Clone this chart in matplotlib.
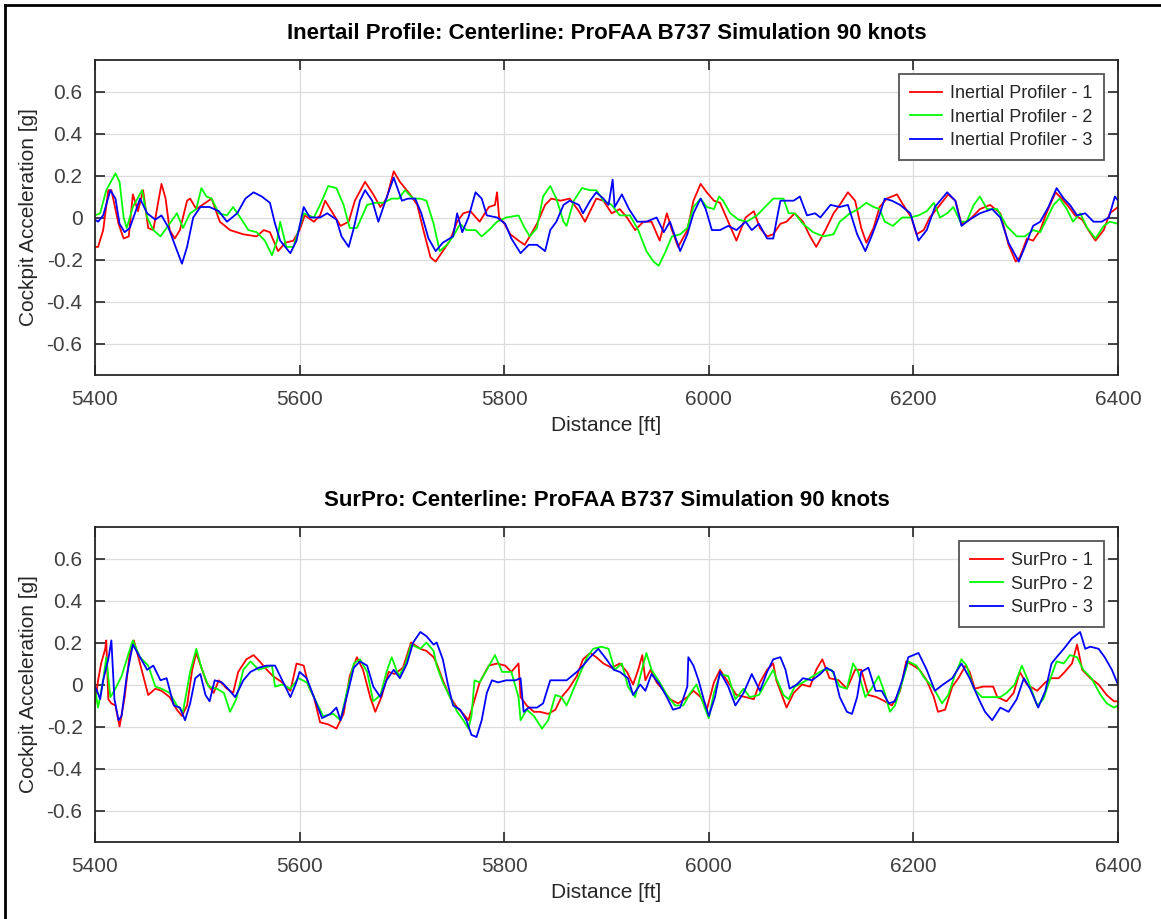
import matplotlib
matplotlib.use("Agg")
import matplotlib.pyplot as plt
from matplotlib.lines import Line2D

# distance [ft], cockpit acceleration [g]
ip1 = [(5400, -0.14), (5403, -0.14), (5408, -0.06), (5413, 0.13), (5416, 0.13), (5423, -0.03),
       (5428, -0.10), (5433, -0.09), (5437, 0.11), (5442, 0.03), (5447, 0.13), (5452, -0.05),
       (5457, -0.06), (5462, 0.08), (5465, 0.16), (5469, 0.09), (5473, -0.06), (5478, -0.10),
       (5483, -0.06), (5490, 0.08), (5493, 0.09), (5499, 0.04), (5508, 0.07), (5514, 0.09),
       (5522, -0.02), (5532, -0.06), (5545, -0.08), (5558, -0.09), (5565, -0.06), (5571, -0.07),
       (5579, -0.16), (5586, -0.12), (5594, -0.11), (5600, -0.06), (5605, 0.01), (5614, -0.02),
       (5620, 0.01), (5625, 0.08), (5630, 0.04), (5640, -0.04), (5648, -0.02), (5654, 0.08),
       (5664, 0.17), (5672, 0.11), (5679, 0.05), (5685, 0.09), (5692, 0.22), (5698, 0.17),
       (5708, 0.11), (5715, 0.06), (5721, -0.06), (5728, -0.19), (5733, -0.21), (5740, -0.16),
       (5747, -0.11), (5754, -0.02), (5760, 0.02), (5767, 0.03), (5776, -0.02), (5785, 0.05),
       (5791, 0.06), (5793, 0.12), (5795, 0.0), (5799, -0.02), (5806, -0.08), (5814, -0.11),
       (5820, -0.13), (5825, -0.09), (5832, -0.03), (5840, 0.06), (5846, 0.09), (5855, 0.08),
       (5864, 0.09), (5873, 0.03), (5879, -0.02), (5884, 0.03), (5890, 0.09), (5897, 0.08),
       (5905, 0.02), (5913, 0.04), (5920, 0.0), (5928, -0.06), (5936, -0.02), (5944, -0.02),
       (5952, -0.11), (5959, 0.02), (5964, -0.06), (5970, -0.14), (5979, -0.06), (5985, 0.08),
       (5992, 0.16), (5998, 0.12), (6005, 0.08), (6011, 0.07), (6019, -0.02), (6027, -0.11),
       (6036, 0.0), (6044, 0.03), (6050, -0.05), (6057, -0.09), (6063, -0.08), (6070, -0.03),
       (6076, -0.02), (6084, 0.02), (6092, -0.02), (6099, -0.09), (6105, -0.14), (6114, -0.06),
       (6122, 0.02), (6128, 0.06), (6136, 0.12), (6143, 0.08), (6149, -0.05), (6154, -0.12),
       (6161, -0.05), (6167, 0.05), (6174, 0.09), (6184, 0.11), (6190, 0.06), (6198, 0.0),
       (6203, -0.08), (6210, -0.06), (6216, 0.0), (6226, 0.06), (6234, 0.11), (6241, 0.08),
       (6247, -0.03), (6255, -0.01), (6265, 0.04), (6275, 0.06), (6285, 0.02), (6293, -0.13),
       (6300, -0.21), (6304, -0.19), (6311, -0.10), (6317, -0.11), (6324, -0.06), (6330, 0.02),
       (6339, 0.12), (6345, 0.09), (6352, 0.05), (6358, 0.01), (6365, -0.01), (6371, -0.06),
       (6378, -0.11), (6386, -0.06), (6392, 0.02), (6400, 0.05)]

ip2 = [(5400, 0.01), (5405, 0.02), (5411, 0.13), (5420, 0.21), (5424, 0.17), (5428, 0.0),
       (5431, -0.05), (5437, 0.05), (5446, 0.13), (5451, 0.0), (5457, -0.06), (5464, -0.09),
       (5470, -0.05), (5480, 0.02), (5486, -0.05), (5493, 0.02), (5499, 0.04), (5504, 0.14),
       (5509, 0.10), (5514, 0.09), (5521, 0.02), (5529, 0.01), (5535, 0.05), (5542, 0.0),
       (5550, -0.06), (5558, -0.07), (5566, -0.11), (5573, -0.18), (5578, -0.11), (5581, -0.02),
       (5587, -0.14), (5594, -0.14), (5604, 0.02), (5614, 0.0), (5620, 0.06), (5628, 0.15),
       (5636, 0.14), (5643, 0.06), (5649, -0.05), (5656, -0.05), (5666, 0.06), (5674, 0.07),
       (5682, 0.07), (5690, 0.09), (5697, 0.09), (5703, 0.13), (5711, 0.09), (5718, 0.09),
       (5724, 0.08), (5731, -0.03), (5737, -0.16), (5744, -0.13), (5750, -0.09), (5757, -0.03),
       (5763, -0.06), (5772, -0.06), (5778, -0.09), (5785, -0.06), (5793, -0.02), (5802, 0.0),
       (5814, 0.01), (5820, -0.05), (5825, -0.09), (5832, -0.05), (5838, 0.10), (5845, 0.15),
       (5851, 0.09), (5858, -0.02), (5861, -0.04), (5868, 0.08), (5876, 0.14), (5884, 0.13),
       (5890, 0.13), (5897, 0.08), (5905, 0.06), (5913, 0.01), (5923, 0.01), (5931, -0.06),
       (5939, -0.16), (5946, -0.21), (5951, -0.23), (5957, -0.17), (5964, -0.09), (5972, -0.08),
       (5979, -0.05), (5985, 0.05), (5992, 0.09), (5998, 0.05), (6005, 0.04), (6010, 0.10),
       (6014, 0.08), (6021, 0.02), (6029, -0.01), (6037, -0.02), (6047, 0.01), (6057, 0.06),
       (6063, 0.09), (6073, 0.09), (6078, 0.02), (6084, 0.02), (6092, -0.03), (6102, -0.07),
       (6112, -0.09), (6122, -0.08), (6128, -0.02), (6138, 0.02), (6146, 0.04), (6154, 0.07),
       (6161, 0.05), (6167, 0.04), (6172, -0.02), (6180, -0.04), (6189, 0.0), (6197, 0.0),
       (6205, 0.01), (6213, 0.03), (6220, 0.07), (6226, 0.0), (6233, 0.02), (6239, 0.05),
       (6246, -0.02), (6252, -0.02), (6259, 0.06), (6265, 0.10), (6272, 0.04), (6282, 0.04),
       (6291, -0.04), (6301, -0.09), (6309, -0.09), (6317, -0.06), (6324, -0.07), (6330, -0.01),
       (6337, 0.06), (6343, 0.09), (6350, 0.04), (6356, -0.02), (6363, 0.02), (6370, -0.05),
       (6378, -0.10), (6386, -0.04), (6392, -0.02), (6400, -0.03)]

ip3 = [(5400, -0.01), (5403, -0.02), (5408, 0.01), (5415, 0.13), (5420, 0.09), (5424, -0.03),
       (5429, -0.07), (5434, -0.05), (5444, 0.09), (5451, 0.02), (5459, -0.01), (5465, 0.01),
       (5472, -0.05), (5478, -0.13), (5485, -0.22), (5490, -0.14), (5496, 0.0), (5503, 0.05),
       (5512, 0.05), (5521, 0.03), (5529, -0.02), (5539, 0.02), (5547, 0.09), (5555, 0.12),
       (5563, 0.10), (5571, 0.07), (5576, -0.03), (5581, -0.11), (5591, -0.17), (5597, -0.11),
       (5604, 0.05), (5610, 0.0), (5620, 0.0), (5627, 0.02), (5636, -0.01), (5641, -0.09),
       (5648, -0.14), (5653, -0.05), (5659, 0.08), (5664, 0.13), (5671, 0.08), (5677, -0.02),
       (5684, 0.08), (5692, 0.19), (5700, 0.08), (5706, 0.09), (5713, 0.09), (5719, 0.02),
       (5726, -0.10), (5733, -0.16), (5740, -0.12), (5750, -0.09), (5754, 0.02), (5759, -0.07),
       (5765, 0.0), (5772, 0.12), (5778, 0.09), (5783, 0.01), (5793, 0.0), (5801, -0.03),
       (5807, -0.10), (5816, -0.17), (5824, -0.13), (5832, -0.13), (5840, -0.16), (5845, -0.06),
       (5851, -0.02), (5858, 0.06), (5864, 0.08), (5873, 0.06), (5877, 0.02), (5884, 0.08),
       (5890, 0.12), (5897, 0.09), (5902, 0.06), (5906, 0.18), (5908, 0.05), (5915, 0.11),
       (5922, 0.04), (5930, -0.02), (5939, -0.02), (5949, 0.0), (5956, -0.07), (5962, -0.02),
       (5972, -0.16), (5979, -0.08), (5985, 0.02), (5992, 0.09), (5997, 0.04), (6003, -0.06),
       (6011, -0.06), (6019, -0.04), (6027, -0.06), (6036, -0.02), (6042, -0.06), (6049, -0.03),
       (6057, -0.10), (6063, -0.10), (6066, -0.02), (6070, 0.08), (6076, 0.08), (6083, 0.08),
       (6089, 0.10), (6096, 0.01), (6104, 0.02), (6109, 0.0), (6119, 0.06), (6128, 0.05),
       (6136, 0.06), (6145, -0.08), (6153, -0.16), (6159, -0.09), (6166, 0.0), (6172, 0.09),
       (6179, 0.08), (6187, 0.06), (6197, 0.02), (6205, -0.11), (6213, -0.06), (6221, 0.05),
       (6233, 0.12), (6241, 0.08), (6247, -0.04), (6255, -0.01), (6265, 0.02), (6277, 0.04),
       (6285, 0.0), (6293, -0.12), (6303, -0.21), (6309, -0.14), (6317, -0.04), (6324, -0.02),
       (6332, 0.05), (6340, 0.14), (6347, 0.09), (6353, 0.06), (6360, 0.01), (6368, 0.02),
       (6376, -0.02), (6384, -0.02), (6391, 0.0), (6397, 0.10), (6400, 0.08)]

sp1 = [(5400, -0.09), (5403, 0.02), (5406, 0.10), (5410, 0.17), (5411, 0.21), (5413, -0.07),
       (5416, -0.09), (5420, -0.10), (5424, -0.20), (5429, -0.06), (5434, 0.15), (5438, 0.21),
       (5444, 0.10), (5452, -0.05), (5459, -0.02), (5465, -0.03), (5473, -0.06), (5480, -0.12),
       (5485, -0.15), (5490, -0.10), (5495, 0.07), (5499, 0.15), (5504, 0.08), (5509, 0.01),
       (5516, -0.04), (5521, 0.02), (5529, -0.02), (5535, -0.04), (5540, 0.06), (5548, 0.12),
       (5555, 0.14), (5561, 0.11), (5568, 0.07), (5574, 0.04), (5583, 0.01), (5591, -0.03),
       (5597, 0.10), (5604, 0.09), (5609, -0.01), (5614, -0.06), (5620, -0.18), (5628, -0.19),
       (5636, -0.21), (5643, -0.14), (5649, 0.04), (5656, 0.13), (5662, 0.07), (5669, -0.06),
       (5674, -0.13), (5680, -0.06), (5687, 0.06), (5693, 0.05), (5701, 0.08), (5709, 0.20),
       (5718, 0.17), (5724, 0.16), (5731, 0.13), (5734, 0.10), (5740, 0.02), (5747, -0.06),
       (5754, -0.11), (5760, -0.14), (5765, -0.17), (5770, -0.09), (5776, 0.01), (5785, 0.09),
       (5793, 0.10), (5801, 0.09), (5807, 0.06), (5814, 0.10), (5816, -0.06), (5822, -0.10),
       (5829, -0.13), (5835, -0.13), (5843, -0.14), (5850, -0.12), (5856, -0.06), (5863, -0.02),
       (5871, 0.04), (5877, 0.12), (5884, 0.15), (5890, 0.13), (5897, 0.10), (5905, 0.08),
       (5913, 0.10), (5920, 0.06), (5926, 0.0), (5931, 0.07), (5935, 0.14), (5938, 0.02),
       (5943, 0.07), (5949, 0.01), (5956, -0.03), (5962, -0.07), (5970, -0.09), (5979, -0.06),
       (5985, -0.03), (5992, -0.06), (5998, -0.12), (6005, 0.01), (6011, 0.07), (6019, 0.01),
       (6027, -0.05), (6036, -0.06), (6044, -0.07), (6050, 0.01), (6057, 0.07), (6063, 0.10),
       (6066, 0.02), (6073, -0.07), (6076, -0.11), (6083, -0.04), (6091, 0.0), (6099, -0.01),
       (6105, 0.07), (6111, 0.12), (6118, 0.03), (6127, 0.02), (6135, -0.02), (6143, 0.07),
       (6149, 0.07), (6156, -0.05), (6164, -0.06), (6172, -0.08), (6179, -0.10), (6187, -0.03),
       (6193, 0.11), (6200, 0.09), (6206, 0.07), (6213, 0.02), (6220, -0.06), (6224, -0.13),
       (6231, -0.12), (6238, -0.01), (6244, 0.03), (6251, 0.09), (6255, 0.06), (6260, -0.02),
       (6268, -0.01), (6278, -0.01), (6282, -0.06), (6291, -0.08), (6298, -0.04), (6304, 0.06),
       (6311, 0.0), (6321, -0.03), (6329, 0.01), (6335, 0.03), (6342, 0.03), (6348, 0.06),
       (6355, 0.10), (6360, 0.19), (6365, 0.07), (6373, 0.03), (6381, 0.0), (6389, -0.05),
       (6396, -0.08), (6400, -0.08)]

sp2 = [(5400, -0.02), (5403, -0.11), (5408, 0.02), (5411, 0.13), (5415, -0.06), (5420, -0.02),
       (5426, 0.04), (5433, 0.15), (5437, 0.21), (5444, 0.13), (5452, 0.09), (5459, -0.01),
       (5465, -0.02), (5473, -0.04), (5480, -0.10), (5486, -0.13), (5493, 0.06), (5499, 0.17),
       (5504, 0.08), (5511, -0.01), (5519, -0.02), (5526, -0.04), (5532, -0.13), (5538, -0.07),
       (5545, 0.07), (5552, 0.11), (5560, 0.07), (5566, 0.08), (5573, 0.09), (5576, -0.01),
       (5583, 0.0), (5591, -0.02), (5599, 0.03), (5607, 0.01), (5614, -0.06), (5623, -0.15),
       (5633, -0.14), (5640, -0.17), (5646, -0.04), (5653, 0.10), (5659, 0.12), (5666, 0.06),
       (5672, -0.08), (5679, -0.05), (5685, 0.06), (5690, 0.13), (5697, 0.04), (5703, 0.09),
       (5709, 0.19), (5718, 0.17), (5724, 0.20), (5731, 0.16), (5734, 0.09), (5740, 0.01),
       (5747, -0.06), (5754, -0.13), (5760, -0.17), (5765, -0.21), (5768, -0.15), (5771, 0.02),
       (5776, 0.01), (5783, 0.07), (5791, 0.14), (5798, 0.06), (5807, 0.06), (5814, -0.06),
       (5816, -0.17), (5822, -0.12), (5829, -0.15), (5837, -0.21), (5843, -0.17), (5850, -0.05),
       (5856, -0.06), (5861, -0.10), (5868, -0.02), (5874, 0.05), (5881, 0.13), (5887, 0.17),
       (5895, 0.18), (5902, 0.17), (5908, 0.07), (5915, 0.10), (5921, -0.01), (5928, -0.06),
       (5933, 0.04), (5939, 0.15), (5944, 0.07), (5952, 0.01), (5959, -0.05), (5967, -0.10),
       (5975, -0.10), (5982, -0.04), (5988, 0.0), (5996, -0.11), (6000, -0.16), (6005, -0.04),
       (6011, 0.05), (6019, 0.04), (6026, -0.07), (6034, -0.02), (6040, -0.06), (6049, -0.05),
       (6057, 0.02), (6063, 0.07), (6066, 0.03), (6073, -0.05), (6078, -0.07), (6084, -0.01),
       (6092, 0.01), (6102, 0.04), (6112, 0.07), (6120, 0.07), (6128, -0.01), (6135, -0.02),
       (6141, 0.10), (6146, 0.06), (6153, -0.06), (6159, -0.02), (6166, 0.04), (6172, -0.04),
       (6177, -0.13), (6182, -0.10), (6189, 0.01), (6195, 0.11), (6203, 0.09), (6211, 0.03),
       (6220, -0.02), (6228, -0.09), (6234, -0.05), (6241, 0.05), (6247, 0.12), (6252, 0.09),
       (6259, -0.02), (6267, -0.06), (6275, -0.06), (6285, -0.06), (6291, -0.04), (6299, 0.0),
       (6306, 0.09), (6312, 0.02), (6321, -0.10), (6327, -0.07), (6334, 0.03), (6340, 0.11),
       (6347, 0.10), (6353, 0.14), (6360, 0.13), (6366, 0.07), (6374, 0.03), (6383, -0.05),
       (6389, -0.09), (6396, -0.11), (6400, -0.10)]

sp3 = [(5400, -0.01), (5402, -0.03), (5405, -0.07), (5408, 0.02), (5413, 0.12), (5416, 0.21),
       (5419, -0.07), (5423, -0.17), (5426, -0.15), (5431, 0.04), (5437, 0.19), (5444, 0.13),
       (5451, 0.07), (5457, 0.09), (5464, 0.02), (5470, 0.03), (5477, -0.10), (5483, -0.11),
       (5488, -0.17), (5493, -0.09), (5498, 0.03), (5503, 0.05), (5508, -0.05), (5512, -0.08),
       (5517, 0.02), (5524, 0.01), (5530, -0.02), (5537, -0.06), (5545, 0.02), (5552, 0.06),
       (5560, 0.08), (5568, 0.09), (5576, 0.09), (5583, 0.02), (5591, -0.06), (5596, 0.0),
       (5600, 0.06), (5607, 0.03), (5614, -0.06), (5622, -0.16), (5630, -0.14), (5636, -0.11),
       (5640, -0.17), (5646, -0.06), (5653, 0.08), (5659, 0.11), (5666, 0.09), (5672, -0.01),
       (5679, -0.06), (5685, 0.02), (5692, 0.07), (5698, 0.03), (5705, 0.10), (5711, 0.20),
       (5718, 0.25), (5724, 0.23), (5731, 0.19), (5734, 0.20), (5740, 0.12), (5745, 0.0),
       (5750, -0.10), (5757, -0.12), (5763, -0.17), (5768, -0.24), (5773, -0.25), (5778, -0.17),
       (5783, -0.04), (5788, 0.02), (5794, 0.01), (5802, 0.02), (5811, 0.02), (5816, 0.03),
       (5819, -0.13), (5824, -0.11), (5832, -0.11), (5838, -0.09), (5845, 0.02), (5853, 0.02),
       (5861, 0.02), (5871, 0.06), (5877, 0.09), (5884, 0.13), (5892, 0.17), (5900, 0.12),
       (5907, 0.07), (5913, 0.06), (5921, 0.03), (5926, -0.05), (5933, 0.0), (5938, -0.03),
       (5944, 0.05), (5952, 0.0), (5959, -0.06), (5965, -0.12), (5972, -0.11), (5979, -0.01),
       (5980, 0.13), (5985, 0.09), (5990, 0.02), (5995, -0.07), (6000, -0.15), (6006, -0.06),
       (6011, 0.06), (6019, -0.01), (6026, -0.10), (6034, -0.04), (6042, 0.05), (6050, -0.03),
       (6057, 0.06), (6063, 0.12), (6070, 0.13), (6075, 0.07), (6079, -0.02), (6086, 0.0),
       (6092, 0.03), (6101, 0.02), (6109, 0.05), (6115, 0.08), (6122, 0.06), (6128, -0.06),
       (6135, -0.13), (6140, -0.14), (6145, -0.06), (6149, 0.06), (6156, 0.08), (6163, -0.03),
       (6169, -0.03), (6176, -0.09), (6182, -0.08), (6189, 0.02), (6195, 0.13), (6205, 0.15),
       (6213, 0.07), (6221, -0.03), (6229, 0.0), (6238, 0.03), (6247, 0.10), (6255, 0.03),
       (6264, -0.07), (6270, -0.13), (6277, -0.17), (6285, -0.11), (6293, -0.13), (6301, -0.07),
       (6308, 0.03), (6314, -0.02), (6322, -0.11), (6329, -0.03), (6335, 0.10), (6340, 0.13),
       (6347, 0.17), (6355, 0.22), (6363, 0.25), (6368, 0.17), (6373, 0.18), (6381, 0.17),
       (6387, 0.13), (6394, 0.07), (6400, 0.0)]

titles = ["Inertail Profile: Centerline: ProFAA B737 Simulation 90 knots",
          "SurPro: Centerline: ProFAA B737 Simulation 90 knots"]
labels_top = ["Inertial Profiler - 1", "Inertial Profiler - 2", "Inertial Profiler - 3"]
labels_bot = ["SurPro - 1", "SurPro - 2", "SurPro - 3"]
colors = ["#ff0000", "#00ff00", "#0000ff"]
xticks = [5400, 5600, 5800, 6000, 6200, 6400]
yticks = [-0.6, -0.4, -0.2, 0, 0.2, 0.4, 0.6]
ytick_labels = ["-0.6", "-0.4", "-0.2", "0", "0.2", "0.4", "0.6"]

plt.rcParams["font.family"] = ["Liberation Sans", "DejaVu Sans"]

fig = plt.figure(figsize=(11.61, 9.19), dpi=100)
W, H = 1161, 919
ax_top = fig.add_axes([95 / W, 1 - 375 / H, 1023 / W, 315 / H])
ax_bot = fig.add_axes([95 / W, 1 - 842 / H, 1023 / W, 315 / H])

panels = [(ax_top, [ip1, ip2, ip3], labels_top, titles[0]),
          (ax_bot, [sp1, sp2, sp3], labels_bot, titles[1])]

for ax, series, labels, title in panels:
    for s, lab, c in zip(series, labels, colors):
        xs, ys = zip(*s)
        ax.plot(xs, ys, color=c, lw=1.3, label=lab)
    ax.set_xlim(5400, 6400)
    ax.set_ylim(-0.75, 0.75)
    ax.set_xticks(xticks)
    ax.set_yticks(yticks)
    ax.set_yticklabels(ytick_labels)
    ax.grid(True, color="#dcdcdc", lw=0.9)
    ax.set_axisbelow(True)
    ax.tick_params(direction="in", length=7, width=1.2, colors="#262626",
                   labelcolor="#404040", labelsize=15, top=True, right=True)
    ax.tick_params(axis="x", pad=11)
    ax.tick_params(axis="y", pad=9)
    for sp in ax.spines.values():
        sp.set_color("#262626")
        sp.set_linewidth(1.3)
    ax.set_title(title, fontsize=16, fontweight="bold", pad=15)
    ax.set_xlabel("Distance [ft]", fontsize=15, color="#262626", labelpad=5)
    ax.set_ylabel("Cockpit Acceleration [g]", fontsize=15, color="#262626", labelpad=6)
    leg = ax.legend(loc="upper right", fontsize=13, fancybox=False, framealpha=1,
                    edgecolor="#555555", handlelength=1.8, handletextpad=0.45,
                    borderaxespad=0.8, labelspacing=0.35, borderpad=0.6)
    leg.get_frame().set_linewidth(1.3)
    for t in leg.get_texts():
        t.set_color("#262626")

# screenshot border on the left and top edges
fig.add_artist(Line2D([5 / W, 5 / W], [0, 1 - 5 / H], color="black", lw=2))
fig.add_artist(Line2D([5 / W, 1], [1 - 5 / H, 1 - 5 / H], color="black", lw=2))

fig.savefig("out.png", dpi=100)
